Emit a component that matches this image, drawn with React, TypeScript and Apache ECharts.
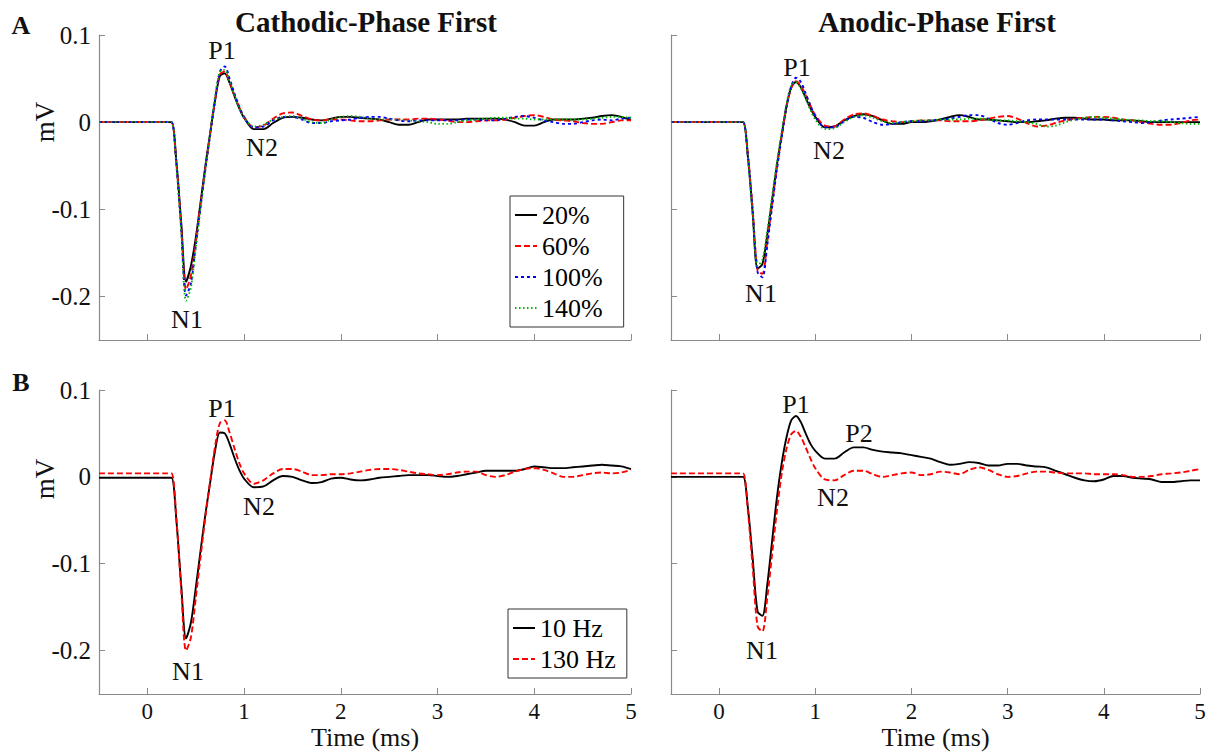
import React, { useEffect, useRef } from "react";
import * as echarts from "echarts";

// time grid (ms)
const time = [
  -0.5, 0.2, 0.25, 0.3, 0.35, 0.4, 0.45, 0.5, 0.55, 0.6, 0.65, 0.7, 0.75, 0.8, 0.85, 0.9, 0.95, 1.0,
  1.1, 1.2, 1.3, 1.4, 1.5, 1.6, 1.7, 1.8, 1.9, 2.0,
  2.1, 2.2, 2.3, 2.4, 2.5, 2.6, 2.7, 2.8, 2.9, 3.0,
  3.1, 3.2, 3.3, 3.4, 3.5, 3.6, 3.7, 3.8, 3.9, 4.0,
  4.1, 4.2, 4.3, 4.4, 4.5, 4.6, 4.7, 4.8, 4.9, 5.0,
];

// A: Cathodic-phase first, amplitudes
const cath20 = [
  0, 0, 0, -0.045, -0.115, -0.183, -0.165, -0.133, -0.092, -0.05, -0.012, 0.025, 0.053, 0.056, 0.045, 0.03, 0.016, 0.005,
  -0.008, -0.008, -0.001, 0.005, 0.006, 0.005, 0.003, 0.002, 0.004, 0.006,
  0.006, 0.005, 0.004, 0.003, 0.0, -0.003, -0.003, 0.0, 0.003, 0.003,
  0.003, 0.003, 0.004, 0.004, 0.004, 0.004, 0.003, 0.0, -0.004, -0.004,
  0.0, 0.003, 0.003, 0.003, 0.004, 0.005, 0.007, 0.008, 0.006, 0.002,
];
const cath60 = [
  0, 0, 0, -0.047, -0.12, -0.192, -0.176, -0.138, -0.094, -0.052, -0.013, 0.025, 0.055, 0.058, 0.046, 0.031, 0.017, 0.006,
  -0.006, -0.004, 0.004, 0.01, 0.011, 0.007, 0.003, 0.002, 0.003, 0.003,
  0.002, 0.001, 0.001, 0.002, 0.003, 0.003, 0.003, 0.004, 0.004, 0.003,
  0.002, 0.0, 0.0, 0.001, 0.002, 0.002, 0.003, 0.005, 0.007, 0.008,
  0.006, 0.003, 0.002, 0.001, -0.001, -0.002, -0.002, 0.0, 0.002, 0.002,
];
const cath100 = [
  0, 0, 0, -0.048, -0.122, -0.199, -0.185, -0.142, -0.097, -0.054, -0.014, 0.026, 0.058, 0.064, 0.05, 0.033, 0.018, 0.006,
  -0.006, -0.005, 0.002, 0.006, 0.006, 0.003, -0.001, -0.001, 0.001, 0.002,
  0.003, 0.005, 0.006, 0.006, 0.004, 0.002, 0.001, 0.002, 0.002, 0.002,
  0.002, 0.002, 0.003, 0.003, 0.002, 0.002, 0.004, 0.006, 0.007, 0.005,
  0.002, 0.0, -0.002, -0.002, 0.0, 0.002, 0.003, 0.002, 0.004, 0.005,
];
const cath140 = [
  0, 0, 0, -0.05, -0.125, -0.205, -0.19, -0.145, -0.098, -0.054, -0.012, 0.03, 0.058, 0.06, 0.047, 0.031, 0.016, 0.005,
  -0.005, -0.003, 0.003, 0.006, 0.007, 0.004, 0.0, -0.001, 0.003, 0.006,
  0.007, 0.006, 0.004, 0.003, 0.003, 0.003, 0.002, 0.001, 0.0, -0.002,
  -0.002, 0.0, 0.002, 0.003, 0.004, 0.005, 0.005, 0.004, 0.004, 0.003,
  0.003, 0.003, 0.003, 0.003, 0.003, 0.004, 0.005, 0.006, 0.006, 0.005,
];

// A: Anodic-phase first, amplitudes
const anod20 = [
  0, 0, 0, -0.04, -0.105, -0.168, -0.163, -0.13, -0.09, -0.05, -0.015, 0.018, 0.04, 0.046, 0.04, 0.028, 0.016, 0.006,
  -0.006, -0.005, 0.002, 0.007, 0.009, 0.007, 0.002, -0.002, -0.002, 0.0,
  0.0, 0.001, 0.003, 0.006, 0.008, 0.006, 0.003, 0.003, 0.002, 0.001,
  0.0, 0.0, 0.001, 0.002, 0.004, 0.005, 0.005, 0.004, 0.003, 0.003,
  0.002, 0.002, 0.002, 0.001, 0.0, 0.0, 0.0, 0.0, 0.0, 0.0,
];
const anod60 = [
  0, 0, 0, -0.038, -0.102, -0.17, -0.174, -0.138, -0.095, -0.053, -0.017, 0.017, 0.039, 0.047, 0.042, 0.031, 0.019, 0.008,
  -0.004, -0.005, 0.003, 0.009, 0.01, 0.007, 0.003, 0.001, 0.0, 0.001,
  0.002, 0.002, 0.002, 0.001, 0.001, 0.001, 0.002, 0.004, 0.006, 0.007,
  0.004, -0.001, -0.005, -0.004, -0.001, 0.002, 0.004, 0.005, 0.006, 0.006,
  0.005, 0.003, 0.002, 0.0, -0.002, -0.003, -0.003, -0.001, 0.002, 0.003,
];
const anod100 = [
  0, 0, 0, -0.04, -0.104, -0.172, -0.178, -0.142, -0.098, -0.055, -0.018, 0.017, 0.041, 0.051, 0.046, 0.033, 0.019, 0.007,
  -0.006, -0.006, 0.001, 0.006, 0.005, 0.0, -0.003, -0.002, 0.0, 0.001,
  0.001, 0.002, 0.003, 0.004, 0.006, 0.008, 0.008, 0.004, -0.001, -0.003,
  -0.001, 0.002, 0.003, 0.003, 0.003, 0.003, 0.003, 0.003, 0.003, 0.003,
  0.002, 0.001, 0.0, -0.001, 0.0, 0.002, 0.003, 0.004, 0.005, 0.006,
];
const anod140 = [
  0, 0, 0, -0.042, -0.108, -0.165, -0.158, -0.126, -0.086, -0.047, -0.012, 0.02, 0.042, 0.046, 0.039, 0.027, 0.014, 0.003,
  -0.008, -0.007, 0.0, 0.006, 0.008, 0.005, 0.001, -0.001, 0.0, 0.001,
  0.002, 0.002, 0.003, 0.003, 0.003, 0.004, 0.004, 0.003, 0.002, 0.002,
  0.001, 0.0, -0.002, -0.005, -0.004, 0.0, 0.003, 0.005, 0.006, 0.005,
  0.004, 0.003, 0.002, 0.002, 0.001, 0.001, 0.0, -0.001, -0.002, -0.002,
];

// B: stimulation frequency
const cath10Hz = [
  -0.001, -0.001, -0.001, -0.05, -0.125, -0.186, -0.168, -0.128, -0.085, -0.043, -0.006, 0.03, 0.051, 0.05, 0.038, 0.022, 0.008, -0.002,
  -0.012, -0.011, -0.004, 0.001, 0.0, -0.004, -0.007, -0.006, -0.002, -0.001,
  -0.003, -0.004, -0.003, -0.001, 0.0, 0.001, 0.002, 0.002, 0.002, 0.001,
  0.0, 0.001, 0.003, 0.005, 0.007, 0.007, 0.007, 0.007, 0.009, 0.012,
  0.011, 0.01, 0.01, 0.011, 0.012, 0.013, 0.014, 0.013, 0.012, 0.009,
];
const cath130Hz = [
  0.004, 0.004, 0.004, -0.048, -0.13, -0.2, -0.185, -0.14, -0.092, -0.046, -0.004, 0.035, 0.062, 0.065, 0.051, 0.033, 0.016, 0.004,
  -0.008, -0.004, 0.004, 0.009, 0.009, 0.006, 0.002, 0.002, 0.003, 0.003,
  0.004, 0.006, 0.008, 0.009, 0.009, 0.008, 0.006, 0.004, 0.003, 0.002,
  0.003, 0.005, 0.006, 0.006, 0.002, 0.0, 0.002, 0.006, 0.009, 0.01,
  0.008, 0.004, 0.0, 0.0, 0.002, 0.004, 0.005, 0.004, 0.005, 0.008,
];
const anod10Hz = [
  0, 0, 0, -0.036, -0.095, -0.155, -0.16, -0.125, -0.075, -0.025, 0.015, 0.045, 0.065, 0.07, 0.063, 0.05, 0.038, 0.03,
  0.021, 0.021, 0.028, 0.034, 0.034, 0.031, 0.029, 0.028, 0.027, 0.025,
  0.023, 0.021, 0.017, 0.014, 0.015, 0.017, 0.016, 0.013, 0.013, 0.015,
  0.015, 0.013, 0.012, 0.011, 0.007, 0.003, -0.001, -0.004, -0.005, -0.003,
  0.001, 0.001, -0.001, -0.002, -0.003, -0.006, -0.006, -0.005, -0.004, -0.004,
];
const anod130Hz = [
  0.004, 0.004, 0.004, -0.04, -0.105, -0.172, -0.178, -0.14, -0.09, -0.04, 0.003, 0.032, 0.049, 0.053, 0.046, 0.034, 0.021, 0.01,
  -0.003, -0.004, 0.002, 0.007, 0.007, 0.003, 0.0, 0.002, 0.004, 0.005,
  0.002, 0.003, 0.006, 0.005, 0.003, 0.008, 0.011, 0.008, 0.003, 0.0,
  0.001, 0.004, 0.006, 0.006, 0.005, 0.004, 0.004, 0.004, 0.003, 0.003,
  0.003, 0.002, 0.0, 0.0, 0.001, 0.003, 0.004, 0.005, 0.007, 0.009,
];

const xTicks = [0, 1, 2, 3, 4, 5];
const yTicks = [-0.2, -0.1, 0, 0.1];
const amplitudeNames = ["20%", "60%", "100%", "140%"];
const frequencyNames = ["10 Hz", "130 Hz"];
const panelTitles = ["Cathodic-Phase First", "Anodic-Phase First"];

const SERIF = '"Liberation Serif", "Times New Roman", serif';
const AXIS_GRAY = "#8a8a8a";

const styles: Record<string, { color: string; type: any }> = {
  "20%": { color: "#000000", type: "solid" },
  "60%": { color: "#ff0000", type: [6, 3] },
  "100%": { color: "#0000ff", type: [3, 3] },
  "140%": { color: "#00b400", type: [1.5, 2.5] },
  "10 Hz": { color: "#000000", type: "solid" },
  "130 Hz": { color: "#ff0000", type: [6, 3] },
};

function pairs(v: number[]) {
  return time.map((t, i) => [t, v[i]]);
}

function makeSeries(name: string, values: number[], axis: number) {
  const s = styles[name];
  return {
    type: "line",
    name,
    xAxisIndex: axis,
    yAxisIndex: axis,
    data: pairs(values),
    symbol: "none",
    smooth: 0.3,
    lineStyle: { color: s.color, width: 1.9, type: s.type },
    itemStyle: { color: s.color },
    z: 3,
  };
}

function xAxis(grid: number, labels: boolean) {
  return {
    type: "value",
    gridIndex: grid,
    min: -0.5,
    max: 5,
    axisLine: { onZero: false, lineStyle: { color: AXIS_GRAY, width: 1.2 } },
    axisTick: { inside: true, length: 6, customValues: xTicks, lineStyle: { color: AXIS_GRAY } },
    axisLabel: {
      show: labels,
      customValues: xTicks,
      margin: 7,
      fontSize: 23,
      lineHeight: 20,
      fontFamily: SERIF,
      color: "#111",
    },
    splitLine: { show: false },
    name: labels ? "Time (ms)" : "",
    nameLocation: "middle",
    nameGap: 33,
    nameMoveOverlap: false,
    nameTextStyle: { fontSize: 26, lineHeight: 20, fontFamily: SERIF, color: "#111" },
  };
}

function yAxis(grid: number, labels: boolean) {
  return {
    type: "value",
    gridIndex: grid,
    min: -0.25,
    max: 0.1,
    axisLine: { onZero: false, lineStyle: { color: AXIS_GRAY, width: 1.2 } },
    axisTick: { inside: true, length: 6, customValues: yTicks, lineStyle: { color: AXIS_GRAY } },
    axisLabel: {
      show: labels,
      customValues: yTicks,
      margin: 8,
      fontSize: 25,
      fontFamily: SERIF,
      color: "#111",
      formatter: (v: number) => (Math.abs(v) < 1e-9 ? "0" : String(Math.round(v * 10) / 10)),
    },
    splitLine: { show: false },
  };
}

function txt(text: string, x: number, y: number, size: number, bold = false, rotation = 0) {
  return {
    type: "text",
    x,
    y,
    rotation,
    z: 10,
    style: {
      text,
      fontSize: size,
      fontFamily: SERIF,
      fontWeight: bold ? "bold" : "normal",
      fill: "#111",
      align: "center",
      verticalAlign: "middle",
    },
  };
}

export default function App() {
  const ref = useRef<HTMLDivElement>(null);
  useEffect(() => {
    const chart = echarts.init(ref.current!, null, { renderer: "svg" });
    const legendBase = {
      orient: "vertical",
      itemWidth: 22,
      itemHeight: 14,
      itemGap: 5,
      selectedMode: false,
      backgroundColor: "#fff",
      borderColor: "#333",
      borderWidth: 1,
      borderRadius: 0,
      itemStyle: { opacity: 0, borderWidth: 0 },
      textStyle: { fontSize: 26, fontFamily: SERIF, color: "#000", lineHeight: 26 },
    };
    const option = {
      animation: false,
      backgroundColor: "#fff",
      grid: [
        { left: 99, top: 35, width: 532, height: 305 },
        { left: 671, top: 35, width: 529, height: 305 },
        { left: 99, top: 390, width: 532, height: 304 },
        { left: 671, top: 390, width: 529, height: 304 },
      ],
      xAxis: [xAxis(0, false), xAxis(1, false), xAxis(2, true), xAxis(3, true)],
      yAxis: [yAxis(0, true), yAxis(1, false), yAxis(2, true), yAxis(3, false)],
      legend: [
        { ...legendBase, data: amplitudeNames, left: 510, top: 196, padding: [6, 21, 6, 4] },
        { ...legendBase, data: frequencyNames, left: 508, top: 609, padding: [6, 11, 6, 4] },
      ],
      series: [
        makeSeries("20%", cath20, 0),
        makeSeries("60%", cath60, 0),
        makeSeries("100%", cath100, 0),
        makeSeries("140%", cath140, 0),
        makeSeries("20%", anod20, 1),
        makeSeries("60%", anod60, 1),
        makeSeries("100%", anod100, 1),
        makeSeries("140%", anod140, 1),
        makeSeries("10 Hz", cath10Hz, 2),
        makeSeries("130 Hz", cath130Hz, 2),
        makeSeries("10 Hz", anod10Hz, 3),
        makeSeries("130 Hz", anod130Hz, 3),
      ],
      graphic: [
        txt("A", 21, 25, 26, true),
        txt("B", 21, 382, 26, true),
        txt(panelTitles[0], 366, 22, 29, true),
        txt(panelTitles[1], 937, 22, 29, true),
        txt("mV", 45, 122, 27, false, Math.PI / 2),
        txt("mV", 45, 479, 27, false, Math.PI / 2),
        // annotations, panel A
        txt("P1", 222, 50, 26),
        txt("N1", 187, 319, 26),
        txt("N2", 262, 147, 26),
        txt("P1", 797, 67, 26),
        txt("N1", 761, 293, 26),
        txt("N2", 829, 150, 26),
        // annotations, panel B
        txt("P1", 222, 408, 26),
        txt("N1", 188, 671, 26),
        txt("N2", 259, 506, 26),
        txt("P1", 796, 404, 26),
        txt("P2", 859, 433, 26),
        txt("N1", 762, 650, 26),
        txt("N2", 833, 497, 26),
      ],
    };
    chart.setOption(option as any);
    return () => chart.dispose();
  }, []);
  return (
    <div
      ref={ref}
      style={{ position: "absolute", left: 0, top: 0, width: 1222, height: 754, background: "#fff" }}
    />
  );
}
